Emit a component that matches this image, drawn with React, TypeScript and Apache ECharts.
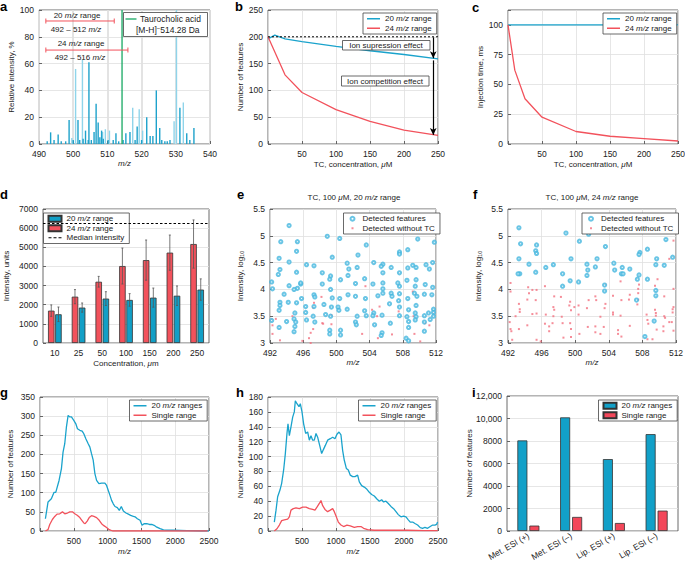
import React, { useEffect, useRef } from 'react';
import * as echarts from 'echarts';

// ---------------- DATA ----------------
// a: spectrum (m/z, relative intensity %)
const spectrumLightMz = [499.6, 500.7, 502.7, 508.6, 509.4, 510.6, 517.4, 519.3, 520.3, 529.5, 530.2, 532.2];
const spectrumLightInt = [4.5, 56, 63, 9, 11, 10, 27, 26, 10, 17, 100, 31];
const spectrumDarkMz = [492.4, 493.4, 494.4, 495.6, 496.5, 497.8, 498.8, 500.0, 501.4, 501.9, 502.9, 503.6, 504.4, 504.6, 505.3, 506.1, 506.7, 507.3, 507.8, 508.3, 508.8, 510.2, 511.7, 512.5, 513.3, 514.6, 515.4, 516.6, 518.1, 518.7, 520.0, 521.5, 522.5, 523.3, 524.3, 525.3, 525.9, 526.8, 527.5, 528.3, 531.2, 533.2, 534.1, 535.3];
const spectrumDarkInt = [2, 8.7, 3, 7, 2, 2, 18, 3, 18, 3, 4, 10, 3, 61, 3, 9, 30, 16, 5, 10, 4, 3, 3, 8, 2, 3, 8, 9, 3, 13, 3, 20, 6, 6, 40, 12, 3, 2, 2, 3, 27, 8, 3, 12];
const tcMz = 514.28;
const range20 = [492, 512];
const range24 = [492, 516];

// b: number of features vs TC concentration
const concB20 = [0, 10, 25, 50, 100, 150, 200, 250];
const features20 = [196, 203, 196, 191, 182, 174, 167, 159];
const concB24 = [0, 25, 50, 100, 150, 200, 250];
const features24 = [200, 129, 96, 64, 42, 26, 16];
const referenceFeatures = 200;

// c: injection time
const concC = [0, 10, 25, 50, 100, 150, 200, 250];
const injection20 = [100, 100, 100, 100, 100, 100, 100, 100];
const injection24 = [100, 62, 38, 22.5, 10.5, 6.5, 4.5, 2.5];

// d: intensity bars
const concD = ['10', '25', '50', '100', '150', '200', '250'];
const intensity24 = [1690, 2420, 3200, 4020, 4330, 4720, 5170];
const intensity24Sd = [300, 370, 280, 940, 1050, 920, 1260];
const intensity20 = [1500, 1850, 2320, 2250, 2370, 2470, 2790];
const intensity20Sd = [380, 240, 360, 330, 500, 510, 560];
const medianIntensity = 6270;

// e: TC 100 uM, 20 m/z range (m/z, log10 intensity)
const eDetected = [
  [494.3, 5.19], [493.3, 4.89], [495.3, 4.89], [498.9, 4.99], [500.4, 4.95], [503.6, 4.83], [509.8, 4.94], [511.8, 4.88], [508.6, 4.74], [507.6, 4.70], [507.6, 4.66], [495.2, 4.71],
  [493.1, 4.58], [494.3, 4.51], [499.5, 4.60], [502.6, 4.64], [501.3, 4.49], [504.5, 4.50], [505.6, 4.47], [505.4, 4.43], [506.6, 4.41], [507.6, 4.31], [509.2, 4.45], [509.6, 4.41], [510.8, 4.46], [511.6, 4.50], [511.2, 4.38], [496.4, 4.46], [497.3, 4.44], [493.2, 4.37], [495.2, 4.32], [498.3, 4.31], [499.3, 4.25], [501.5, 4.38], [502.5, 4.41], [501.4, 4.26], [508.6, 4.40],
  [493.0, 4.28], [492.2, 4.14], [494.3, 4.07], [495.7, 4.10], [495.7, 4.12], [498.3, 4.10], [499.2, 4.19], [500.5, 4.18], [503.4, 4.20], [502.3, 4.11], [504.4, 4.10], [505.6, 4.31], [505.6, 4.12], [505.6, 4.01], [507.6, 4.06], [507.4, 4.12], [508.5, 4.17], [509.6, 4.18], [509.5, 4.06], [510.7, 4.09], [511.6, 4.04],
  [492.3, 4.01], [495.3, 4.02], [493.7, 3.91], [494.9, 4.00], [495.8, 3.83], [497.3, 3.90], [499.3, 4.00], [500.4, 3.83], [501.4, 3.90], [502.3, 3.87], [503.5, 3.83], [505.0, 3.88], [505.6, 3.93], [506.6, 3.93], [506.7, 3.87], [507.6, 3.92], [508.6, 3.83], [509.4, 3.93], [509.7, 3.87], [510.6, 3.91], [511.5, 3.90], [497.4, 3.86],
  [493.2, 3.76], [493.2, 3.70], [494.2, 3.76], [495.2, 3.75], [496.3, 3.68], [497.3, 3.68], [498.5, 3.72], [499.4, 3.67], [499.5, 3.84], [500.2, 3.67], [501.3, 3.63], [500.3, 3.61], [503.4, 3.60], [506.4, 3.73], [507.5, 3.79], [507.6, 3.67], [508.7, 3.62], [509.6, 3.70], [511.7, 3.63], [511.7, 3.57],
  [493.1, 3.61], [495.0, 3.56], [496.3, 3.57], [497.2, 3.50], [498.7, 3.53], [499.3, 3.50], [502.5, 3.50], [503.6, 3.51], [504.5, 3.56], [504.4, 3.51], [505.5, 3.52], [507.6, 3.51], [508.5, 3.49], [509.5, 3.56], [509.6, 3.49], [510.6, 3.51], [511.7, 3.50], [511.1, 3.56],
  [492.2, 3.42], [494.0, 3.40], [494.9, 3.45], [495.1, 3.39], [496.4, 3.43], [497.4, 3.39], [502.3, 3.39], [502.4, 3.34], [504.6, 3.34], [506.5, 3.37], [508.7, 3.40], [509.5, 3.43], [510.6, 3.39], [511.3, 3.44],
  [493.1, 3.29], [495.0, 3.31], [494.9, 3.21], [499.2, 3.24], [499.2, 3.17], [500.5, 3.24], [500.5, 3.15], [505.5, 3.19], [505.4, 3.14], [508.7, 3.29], [510.6, 3.22], [508.4, 3.09], [508.7, 3.04],
];
const eWithoutTC = [
  [492.2, 3.44], [492.7, 3.45], [492.3, 3.33], [492.3, 3.17], [493.2, 3.05], [494.7, 3.50], [497.2, 3.66], [497.3, 3.75], [498.2, 3.86], [499.4, 3.52], [498.3, 3.37], [498.4, 3.36], [499.4, 3.35], [497.2, 3.26], [496.9, 3.19], [496.7, 3.09], [496.9, 3.00],
  [503.1, 3.17], [503.5, 4.06], [504.3, 3.62], [505.2, 3.68], [505.0, 3.09], [506.7, 3.16], [507.5, 3.59], [509.3, 3.50], [509.4, 3.17], [510.1, 3.03], [510.7, 3.37], [511.2, 3.33], [511.7, 3.57], [509.2, 3.96], [504.9, 3.50], [495.9, 3.04],
];

// f: TC 100 uM, 24 m/z range
const fDetected = [
  [493.3, 5.15], [493.5, 4.85], [495.4, 4.83], [495.3, 4.72], [495.4, 4.67], [493.3, 4.57], [494.5, 4.47], [495.3, 4.32], [493.4, 4.29], [493.2, 4.29], [496.5, 4.41], [497.4, 4.46], [498.9, 5.05], [500.5, 4.90], [501.6, 5.03], [503.6, 4.80], [499.5, 4.57], [502.6, 4.57], [501.4, 4.47], [501.5, 4.36], [501.4, 4.26], [499.4, 4.16], [498.5, 4.29], [498.5, 4.06], [500.4, 4.14],
  [502.4, 4.42], [504.6, 4.49], [504.7, 4.36], [505.6, 4.41], [505.5, 4.29], [505.7, 4.29], [506.5, 4.38], [507.7, 4.69], [507.6, 4.65], [507.6, 4.27], [507.4, 4.19], [508.6, 4.75], [508.6, 4.19], [509.6, 4.46], [509.7, 4.57], [510.8, 4.93], [510.6, 4.45], [511.6, 4.60], [509.6, 3.98], [509.6, 3.88], [503.5, 4.08], [503.5, 3.97], [507.3, 3.80], [509.4, 3.41], [508.3, 3.12],
];
const fWithoutTC = [
  [492.3, 4.12], [492.3, 3.96], [492.2, 3.39], [492.4, 3.22], [492.3, 3.26], [492.5, 3.06], [492.9, 3.50], [493.3, 3.73], [493.4, 3.63], [493.4, 3.58], [493.3, 3.26], [494.4, 4.04], [494.5, 3.93], [494.3, 3.81], [494.9, 3.99], [494.9, 3.54], [494.3, 3.33], [495.4, 3.99], [495.4, 3.55], [495.4, 3.06], [495.9, 3.03], [495.3, 3.80],
  [496.4, 4.06], [496.5, 3.53], [496.4, 3.36], [496.9, 3.31], [496.9, 3.22], [497.5, 3.87], [497.4, 3.67], [497.5, 3.62], [497.4, 3.50], [497.3, 3.37], [498.3, 3.86], [498.4, 3.49], [498.5, 3.37], [498.6, 3.10], [499.3, 3.70], [499.4, 3.77], [499.4, 3.37], [499.5, 3.26], [499.5, 3.61], [499.9, 3.67], [499.5, 3.11],
  [500.4, 3.70], [500.4, 3.53], [500.5, 3.17], [501.6, 3.80], [501.5, 3.30], [501.4, 3.65], [502.4, 3.87], [502.5, 3.80], [502.4, 3.31], [502.4, 3.20], [503.0, 3.49], [503.0, 3.17], [503.6, 4.09], [503.6, 3.73], [503.5, 3.65], [503.4, 3.30], [504.5, 3.57], [504.5, 3.53], [504.5, 3.88], [505.1, 3.24], [505.1, 3.17],
  [505.4, 4.15], [505.5, 3.80], [505.4, 3.51], [505.5, 3.12], [506.4, 3.81], [506.5, 3.90], [506.5, 3.32], [507.5, 4.01], [507.6, 4.09], [507.5, 3.93], [507.5, 3.81], [507.4, 3.72], [508.5, 3.53], [508.6, 3.43], [508.7, 3.36], [508.6, 3.07], [509.2, 3.07], [509.5, 3.62], [509.6, 3.56], [509.6, 3.51],
  [509.7, 3.25], [509.8, 4.19], [510.6, 3.87], [510.6, 3.50], [510.7, 3.47], [510.5, 3.31], [510.5, 3.22], [511.2, 3.39], [511.5, 3.39], [511.7, 3.23], [511.7, 3.67], [511.6, 3.63], [511.6, 3.57], [511.7, 4.01], [511.7, 4.91], [511.2, 4.57], [509.5, 4.07],
];

// g: number of features vs m/z
const gMultiRange = [[80, 32], [119, 76], [168, 84], [208, 101], [233, 101], [282, 132], [317, 163], [341, 206], [366, 228], [391, 272], [416, 302], [441, 298], [465, 298], [500, 289], [530, 280], [554, 267], [589, 263], [624, 261], [648, 254], [678, 241], [713, 228], [738, 219], [762, 202], [787, 185], [812, 150], [837, 132], [871, 124], [911, 125], [960, 125], [985, 119], [1010, 106], [1035, 93], [1059, 80], [1084, 71], [1109, 64], [1144, 61], [1173, 54], [1203, 64], [1233, 52], [1272, 47], [1307, 44], [1341, 41], [1371, 39], [1406, 37], [1440, 32], [1480, 28], [1510, 15], [1539, 19], [1579, 19], [1619, 17], [1653, 17], [1688, 15], [1728, 10], [1777, 6], [1827, 3], [1876, 2], [1975, 2], [2173, 1], [2371, 0], [2500, 0]];
const gSingleRange = [[80, 0], [119, 3.5], [144, 17], [183, 30], [218, 38], [252, 44], [292, 45], [332, 50], [366, 45], [406, 47], [441, 50], [480, 50], [515, 45], [550, 41], [589, 35], [619, 28], [648, 21], [668, 19], [698, 26], [728, 35], [762, 40], [797, 38], [837, 35], [876, 28], [911, 19], [945, 14], [985, 9], [1024, 3.5], [1074, 0], [2480, 0]];

// h
const hMultiRange = [[93, 12], [118, 28], [142, 46], [176, 55], [201, 64], [230, 82], [255, 104], [279, 131], [294, 144], [314, 128], [338, 140], [363, 153], [387, 160], [402, 175], [426, 171], [456, 167], [475, 171], [500, 160], [524, 144], [554, 131], [583, 133], [608, 122], [632, 128], [657, 122], [681, 122], [706, 131], [730, 126], [760, 115], [789, 104], [813, 109], [843, 115], [877, 122], [916, 124], [951, 126], [985, 124], [1014, 130], [1044, 133], [1073, 129], [1098, 108], [1122, 95], [1152, 84], [1181, 82], [1210, 75], [1245, 73], [1279, 73], [1318, 75], [1343, 66], [1377, 61], [1416, 59], [1455, 56], [1490, 52], [1524, 49], [1563, 47], [1602, 43], [1637, 40], [1671, 42], [1700, 39], [1735, 40], [1769, 37], [1808, 33], [1847, 30], [1882, 26], [1916, 22], [1955, 19], [1994, 20], [2029, 19], [2063, 15], [2092, 12], [2127, 12], [2161, 10], [2200, 8], [2239, 4.5], [2274, 3.6], [2308, 5], [2347, 3.6], [2386, 6], [2421, 8], [2455, 8], [2480, 9], [2494, 12]];
const hSingleRange = [[93, 0], [132, 3], [167, 8], [201, 14], [240, 15], [289, 16], [314, 19], [338, 28], [372, 30], [412, 31], [461, 30], [510, 32], [559, 32], [608, 30], [657, 29], [691, 28], [720, 32], [755, 37], [779, 41], [804, 34], [838, 29], [877, 26], [916, 28], [951, 30], [975, 26], [1005, 19], [1034, 12], [1073, 8], [1112, 6], [1161, 8], [1210, 7], [1269, 5], [1318, 6], [1367, 6], [1406, 3.6], [1465, 1.8], [1563, 1], [1808, 1], [2053, 1], [2298, 0.5], [2494, 0.5]];

// i
const modes = ['Met. ESI (+)', 'Met. ESI (–)', 'Lip. ESI (+)', 'Lip. ESI (–)'];
const featuresMulti = [8050, 10100, 6390, 8610];
const featuresSingle = [480, 1250, 710, 1810];

// ---------------- STYLE HELPERS ----------------
const FONT = '"Liberation Sans", Arial, Helvetica, sans-serif';
const TXT = '#222';
const FRAME = '#444';
const GL = '#e0e0e0';
const BLUE = '#1aa3cc';
const RED = '#f2525c';
const GREEN = '#17a862';
const FS = 8.5;

// legend icons drawn as paths with invisible corner specks to keep a fixed box
const LINE_ICON = 'path://M0,0h0.01v0.01h-0.01zM0,2.8h13v1.4h-13zM12.99,6.99h0.01v0.01h-0.01z';
const DASH_ICON = 'path://M0,0h0.01v0.01h-0.01zM0,2.5h3v1h-3zM5,2.5h3v1h-3zM10,2.5h3v1h-3zM12.99,5.99h0.01v0.01h-0.01z';
const DOT_ICON = 'path://M0,0h0.01v0.01h-0.01zM4,1h2v2h-2zM9.99,3.99h0.01v0.01h-0.01z';

const zip = (xs: number[], ys: number[]) => xs.map((x, i) => [x, ys[i]]);

const richText = {
  i: { fontStyle: 'italic', fontSize: 8, fontFamily: FONT, color: TXT },
  sub: { fontSize: 5.5, fontFamily: FONT, color: TXT, verticalAlign: 'bottom', padding: [4, 0, 0, 0] },
};

function mkGrid(left: number, top: number, width: number, height: number) {
  return { left, top, width, height, show: true, borderColor: FRAME, borderWidth: 0.8, backgroundColor: 'transparent', containLabel: false, outerBoundsMode: 'none' };
}

function mkAxis(o: any) {
  const ax: any = {
    type: o.type || 'value',
    name: o.name,
    nameLocation: 'middle',
    nameGap: o.nameGap,
    nameMoveOverlap: false,
    nameTextStyle: { fontSize: 8, fontFamily: FONT, color: TXT, fontStyle: o.italicName ? 'italic' : 'normal', rich: richText },
    axisLine: { show: false },
    axisTick: { show: o.tick !== false, inside: true, length: 3, alignWithLabel: true, lineStyle: { color: FRAME, width: 0.8 } },
    axisLabel: { fontSize: FS, fontFamily: FONT, color: TXT, margin: o.margin ?? 5, rotate: o.rotate || 0, formatter: o.formatter || ((v: any) => String(v)) },
    splitLine: { show: !!o.split, lineStyle: { color: GL, width: o.splitWidth || 0.8 } },
  };
  if (o.min !== undefined) ax.min = o.min;
  if (o.max !== undefined) ax.max = o.max;
  if (o.interval !== undefined) ax.interval = o.interval;
  if (o.data) { ax.data = o.data; ax.axisLabel.interval = 0; }
  return ax;
}

function mkLegend(left: number, top: number, data: any[], o: any = {}) {
  return {
    left, top, orient: 'vertical', data, selectedMode: false,
    backgroundColor: '#fff', borderColor: FRAME, borderWidth: 0.8, borderRadius: 0,
    padding: o.padding || [1, 5, 1, 4], itemGap: o.itemGap ?? 0,
    itemWidth: o.itemWidth || 13, itemHeight: o.itemHeight || 7,
    icon: o.icon,
    textStyle: { fontSize: 8, fontFamily: FONT, color: TXT, lineHeight: 9.5, rich: { i: { fontStyle: 'italic', fontSize: 8, fontFamily: FONT, color: TXT, lineHeight: 9.5 } } },
    formatter: (n: string) => n.replace('m/z', '{i|m/z}'),
  };
}

const letter = (t: string, x: number, y: number) => ({
  type: 'text', x, y, z: 100,
  style: { text: t, fontSize: 13, fontWeight: 'bold', fontFamily: FONT, fill: '#000', align: 'left', verticalAlign: 'top' },
});

const label = (t: string, x: number, y: number, extra: any = {}) => ({
  type: 'text', x, y, z: 100,
  style: { text: t, fontSize: 8, fontFamily: FONT, fill: TXT, align: 'center', verticalAlign: 'middle', rich: { i: { fontStyle: 'italic', fontSize: 8, fontFamily: FONT, fill: TXT } }, ...extra },
});

const hideZero = (v: number) => (v === 0 ? '' : String(v));

const base = { backgroundColor: 'transparent', animation: false, textStyle: { fontFamily: FONT } };

// ---------------- PANELS ----------------
function panelA() {
  const rangeLine = (r: number[], level: number) => ({
    type: 'line', data: [[r[0], level], [r[1], level]], symbol: 'rect', symbolSize: [1, 5], showSymbol: true,
    lineStyle: { color: RED, width: 1 }, itemStyle: { color: RED }, z: 5, silent: true,
  });
  return {
    ...base,
    grid: mkGrid(39, 10, 171, 134),
    xAxis: mkAxis({ min: 490, max: 540, interval: 10, name: 'm/z', italicName: true, nameGap: 15, split: true, splitWidth: 1.8 }),
    yAxis: mkAxis({ min: 0, max: 100, interval: 20, name: 'Relative intensity, %', nameGap: 24, split: true }),
    series: [
      { type: 'bar', name: 'light', data: zip(spectrumLightMz, spectrumLightInt), barWidth: 1.4, barGap: '-100%', itemStyle: { color: '#8fd4ea' }, silent: true },
      { type: 'bar', name: 'dark', data: zip(spectrumDarkMz, spectrumDarkInt), barWidth: 1.4, barGap: '-100%', itemStyle: { color: '#1ea2cb' }, silent: true },
      { type: 'line', name: 'Taurocholic acid', data: [[tcMz, 0], [tcMz, 100]], symbol: 'none', lineStyle: { color: GREEN, width: 1.3 }, z: 4 },
      rangeLine(range20, 91.8),
      rangeLine(range24, 70.1),
    ],
    graphic: [
      letter('a', 0, 0),
      label('20 {i|m/z} range', 77, 15.5),
      label('492 – 512 {i|m/z}', 76, 29),
      label('24 {i|m/z} range', 81, 43.8),
      label('492 – 516 {i|m/z}', 80, 57.5),
      { type: 'rect', z: 100, shape: { x: 123.5, y: 12.5, width: 84, height: 24 }, style: { fill: '#fff', stroke: FRAME, lineWidth: 0.8 } },
      { type: 'line', z: 101, shape: { x1: 125.5, y1: 19, x2: 136.5, y2: 19 }, style: { stroke: GREEN, lineWidth: 1.3 } },
      { type: 'text', x: 140, y: 19, z: 101, style: { text: 'Taurocholic acid', fontSize: 8.5, fontFamily: FONT, fill: TXT, align: 'left', verticalAlign: 'middle' } },
      { type: 'text', x: 136, y: 29.5, z: 101, style: { text: '[M-H]{s|−}514.28 Da', fontSize: 8.5, fontFamily: FONT, fill: TXT, align: 'left', verticalAlign: 'middle', rich: { s: { fontSize: 6, fontFamily: FONT, fill: TXT, verticalAlign: 'top', padding: [0, 0, 4, 0] } } } },
    ],
  };
}

function panelB() {
  return {
    ...base,
    grid: mkGrid(268, 10, 170, 134),
    xAxis: mkAxis({ min: 0, max: 250, interval: 50, name: 'TC, concentration, {i|μ}M', nameGap: 16, split: true, formatter: hideZero }),
    yAxis: mkAxis({ min: 0, max: 250, interval: 50, name: 'Number of features', nameGap: 24, split: true }),
    legend: mkLegend(363, 13, ['20 m/z range', '24 m/z range'], { icon: LINE_ICON }),
    series: [
      { type: 'line', name: '20 m/z range', data: zip(concB20, features20), symbol: 'none', lineStyle: { color: BLUE, width: 1.3 }, itemStyle: { color: BLUE } },
      { type: 'line', name: '24 m/z range', data: zip(concB24, features24), symbol: 'none', lineStyle: { color: RED, width: 1.3 }, itemStyle: { color: RED } },
      {
        type: 'line', name: 'reference', data: [[0, referenceFeatures], [250, referenceFeatures]], symbol: 'none', silent: true,
        lineStyle: { color: '#000', width: 1, type: [2, 2] },
        markLine: {
          silent: true, symbol: ['none', 'arrow'], symbolSize: [5, 7], label: { show: false },
          lineStyle: { color: '#000', width: 1.2, type: 'solid' },
          data: [
            [{ coord: [243, referenceFeatures - 1] }, { coord: [243, features20[features20.length - 1] + 1] }],
            [{ coord: [243, features20[features20.length - 1] - 3] }, { coord: [243, features24[features24.length - 1] + 1] }],
          ],
        },
      },
    ],
    graphic: [
      letter('b', 235, 0),
      { type: 'rect', z: 100, shape: { x: 342.5, y: 40.5, width: 87.5, height: 9.5 }, style: { fill: '#fff', stroke: FRAME, lineWidth: 0.8 } },
      label('Ion supression effect', 386, 45.5),
      { type: 'rect', z: 100, shape: { x: 341.5, y: 76, width: 87.5, height: 10 }, style: { fill: '#fff', stroke: FRAME, lineWidth: 0.8 } },
      label('Ion competition effect', 385, 81),
    ],
  };
}

function panelC() {
  return {
    ...base,
    grid: mkGrid(508, 10, 170, 134),
    xAxis: mkAxis({ min: 0, max: 250, interval: 50, name: 'TC, concentration, {i|μ}M', nameGap: 16, split: true, formatter: hideZero }),
    yAxis: mkAxis({ min: 0, max: 112.5, interval: 25, name: 'Injection time, ms', nameGap: 24, split: true, formatter: (v: number) => (v % 25 === 0 ? String(v) : '') }),
    legend: mkLegend(603, 13, ['20 m/z range', '24 m/z range'], { icon: LINE_ICON }),
    series: [
      { type: 'line', name: '20 m/z range', data: zip(concC, injection20), symbol: 'none', lineStyle: { color: BLUE, width: 1.3 }, itemStyle: { color: BLUE } },
      { type: 'line', name: '24 m/z range', data: zip(concC, injection24), symbol: 'none', lineStyle: { color: RED, width: 1.3 }, itemStyle: { color: RED } },
    ],
    graphic: [letter('c', 472, 1)],
  };
}

function errorSeries(mean: number[], sd: number[], offset: number) {
  return {
    type: 'custom', silent: true, z: 10,
    data: mean.map((m, i) => [i, m - sd[i], m + sd[i]]),
    renderItem: (_p: any, api: any) => {
      const hi = api.coord([api.value(0), api.value(2)]);
      const lo = api.coord([api.value(0), api.value(1)]);
      const cx = hi[0] + offset;
      const st = { stroke: '#555', lineWidth: 0.8 };
      return {
        type: 'group', children: [
          { type: 'line', shape: { x1: cx, y1: hi[1], x2: cx, y2: lo[1] }, style: st },
          { type: 'line', shape: { x1: cx - 1, y1: hi[1], x2: cx + 1, y2: hi[1] }, style: st },
          { type: 'line', shape: { x1: cx - 1, y1: lo[1], x2: cx + 1, y2: lo[1] }, style: st },
        ],
      };
    },
  };
}

function panelD() {
  return {
    ...base,
    grid: mkGrid(43, 209, 166, 134),
    xAxis: mkAxis({ type: 'category', data: concD, name: 'Concentration, {i|μ}m', nameGap: 16, split: false, tick: false }),
    yAxis: mkAxis({ min: 0, max: 7000, interval: 1000, name: 'Intensity, units', nameGap: 33, split: true }),
    legend: mkLegend(43.5, 213, [
      { name: '20 m/z range', icon: 'rect' },
      { name: '24 m/z range', icon: 'rect' },
      { name: 'Median intensity', icon: DASH_ICON },
    ], { itemWidth: 13, itemHeight: 6 }),
    series: [
      { type: 'bar', name: '24 m/z range', data: intensity24, barWidth: 6.5, barGap: '10%', itemStyle: { color: RED, borderColor: '#333', borderWidth: 0.8 } },
      { type: 'bar', name: '20 m/z range', data: intensity20, barWidth: 6.5, barGap: '10%', itemStyle: { color: '#129fc6', borderColor: '#333', borderWidth: 0.8 } },
      errorSeries(intensity24, intensity24Sd, -3.6),
      errorSeries(intensity20, intensity20Sd, 3.6),
      {
        type: 'line', name: 'Median intensity', data: [], symbol: 'none',
        lineStyle: { color: '#000', width: 1, type: [2.5, 2] }, itemStyle: { color: '#000' },
        markLine: { silent: true, symbol: 'none', label: { show: false }, lineStyle: { color: '#000', width: 1, type: [2.5, 2] }, data: [{ yAxis: medianIntensity }] },
      },
    ],
    graphic: [letter('d', 0, 188)],
  };
}

function scatterPanel(left: number, title: string, titleX: number, detected: number[][], without: number[][], legendLeft: number, letterCh: string, letterX: number) {
  return {
    ...base,
    grid: mkGrid(left, 209, left === 270 ? 166 : 168, 134),
    xAxis: mkAxis({ min: 492, max: 512, interval: 4, name: 'm/z', italicName: true, nameGap: 15, split: true }),
    yAxis: mkAxis({ min: 3, max: 5.5, interval: 0.5, name: 'Intensity, log{sub|10}', nameGap: 25, split: true }),
    legend: mkLegend(legendLeft, 213, [
      { name: 'Detected features', icon: 'emptyCircle' },
      { name: 'Detected without TC', icon: DOT_ICON },
    ], { itemWidth: 10, itemHeight: 4 }),
    series: [
      { type: 'scatter', name: 'Detected without TC', data: without, symbol: 'rect', symbolSize: 2, itemStyle: { color: '#f37080' }, silent: true },
      { type: 'scatter', name: 'Detected features', data: detected, symbol: 'emptyCircle', symbolSize: 3.2, itemStyle: { color: '#45b7de', borderColor: '#45b7de', borderWidth: 0.6 }, silent: true },
    ],
    graphic: [
      letter(letterCh, letterX, 188),
      label(title, titleX, 197),
    ],
  };
}

function linePanel(left: number, ymax: number, yint: number, multi: number[][], single: number[][], legendLeft: number, letterCh: string, letterX: number, nameGap: number) {
  return {
    ...base,
    grid: mkGrid(left, 397, left === 40 ? 169 : 170, 134),
    xAxis: mkAxis({ min: 0, max: 2500, interval: 500, name: 'm/z', italicName: true, nameGap: 16, split: true, formatter: hideZero }),
    yAxis: mkAxis({ min: 0, max: ymax, interval: yint, name: 'Number of features', nameGap, split: true }),
    legend: mkLegend(legendLeft, 400, ['20 m/z ranges', 'Single range'], { icon: LINE_ICON }),
    series: [
      { type: 'line', name: '20 m/z ranges', data: multi, symbol: 'none', lineStyle: { color: BLUE, width: 1.3 }, itemStyle: { color: BLUE } },
      { type: 'line', name: 'Single range', data: single, symbol: 'none', lineStyle: { color: RED, width: 1.3 }, itemStyle: { color: RED } },
    ],
    graphic: [letter(letterCh, letterX, 386)],
  };
}

function panelI() {
  const fmt = (v: number) => (v >= 10000 ? `${Math.floor(v / 1000)},${String(v % 1000).padStart(3, '0')}` : String(v));
  return {
    ...base,
    grid: mkGrid(507, 396, 171, 135),
    xAxis: mkAxis({ type: 'category', data: modes, tick: false, rotate: 30, margin: 4 }),
    yAxis: mkAxis({ min: 0, max: 12000, interval: 2000, name: 'Number of features', nameGap: 34, split: true, formatter: fmt }),
    legend: mkLegend(598.5, 400, ['20 m/z ranges', 'Single range'], { icon: 'rect', itemWidth: 13, itemHeight: 6 }),
    series: [
      { type: 'bar', name: '20 m/z ranges', data: featuresMulti, barWidth: 10, barGap: '20%', itemStyle: { color: '#12a0c8', borderColor: '#333', borderWidth: 0.8 } },
      { type: 'bar', name: 'Single range', data: featuresSingle, barWidth: 10, barGap: '20%', itemStyle: { color: '#f3475a', borderColor: '#333', borderWidth: 0.8 } },
    ],
    graphic: [letter('i', 472, 386)],
  };
}

function buildPanels(): any[] {
  return [
    panelA(),
    panelB(),
    panelC(),
    panelD(),
    scatterPanel(270, 'TC, 100 {i|μ}M, 20 {i|m/z} range', 354, eDetected, eWithoutTC, 343.5, 'e', 237),
    scatterPanel(508, 'TC, 100 {i|μ}M, 24 {i|m/z} range', 592, fDetected, fWithoutTC, 582, 'f', 473),
    linePanel(40, 350, 50, gMultiRange, gSingleRange, 129.5, 'g', 0, 26),
    linePanel(268, 180, 20, hMultiRange, hSingleRange, 358.5, 'h', 236, 24),
    panelI(),
  ];
}

export default function App() {
  const refs = useRef<(HTMLDivElement | null)[]>([]);
  const count = 9;
  useEffect(() => {
    const panels = buildPanels();
    const charts = panels.map((opt, i) => {
      const c = echarts.init(refs.current[i] as HTMLDivElement, null, { renderer: 'svg', width: 685, height: 565 });
      c.setOption(opt);
      return c;
    });
    return () => charts.forEach((c) => c.dispose());
  }, []);
  return (
    <div style={{ position: 'absolute', left: 0, top: 0, width: 685, height: 565, background: '#fff', overflow: 'hidden' }}>
      {Array.from({ length: count }).map((_, i) => (
        <div key={i} ref={(el) => { refs.current[i] = el; }} style={{ position: 'absolute', left: 0, top: 0, width: 685, height: 565 }} />
      ))}
    </div>
  );
}
